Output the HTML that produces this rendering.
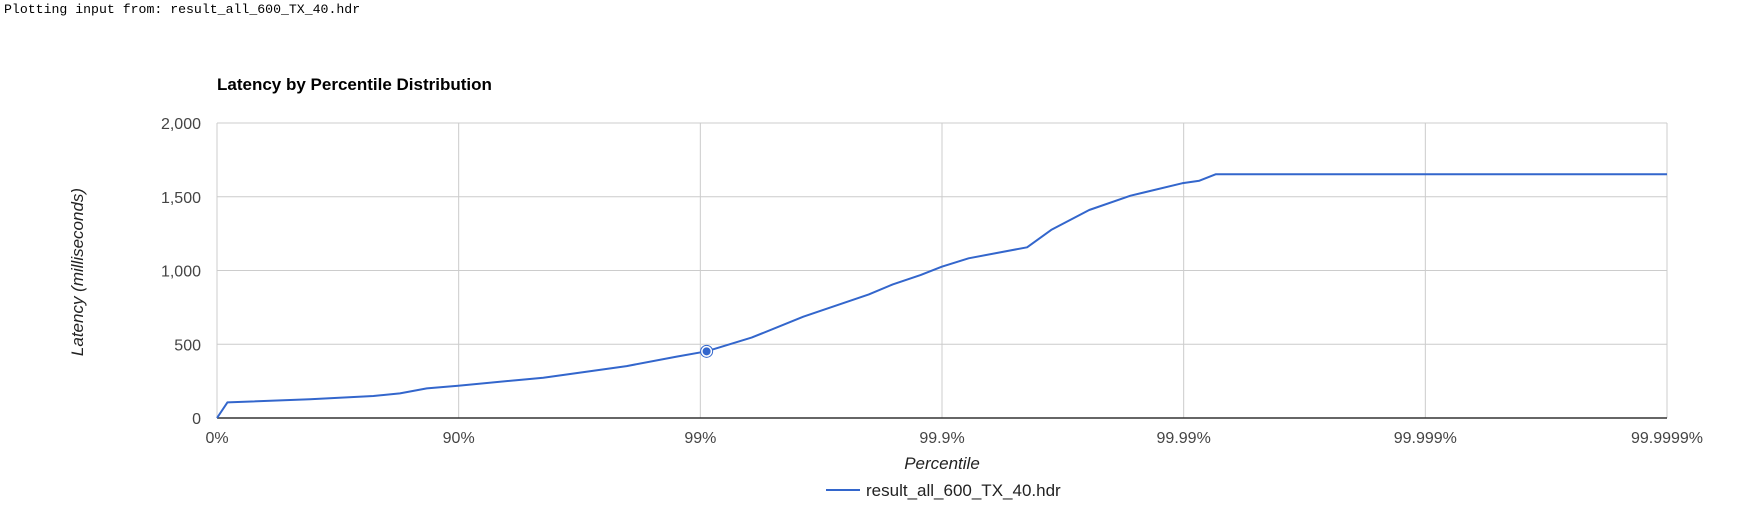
<!DOCTYPE html>
<html><head><meta charset="utf-8"><style>
body{margin:0;background:#fff;width:1738px;height:506px;overflow:hidden;position:relative}
pre{margin:0;position:absolute;left:4px;top:2px;font:13.2px "Liberation Mono",monospace;color:#000}
svg{position:absolute;left:0;top:0}
text{font-family:"Liberation Sans",Arial,sans-serif}
</style></head><body>
<pre>Plotting input from: result_all_600_TX_40.hdr</pre>
<svg id="chart" width="1738" height="506"></svg>
<script>
// x in "nines" units: log10(1/(1-p)); 0 = 0%, 1 = 90%, 2 = 99% ...
const nines = [0,0.043,0.385,0.647,0.757,0.868,0.998,1.35,1.695,1.902,2.026,2.212,2.426,2.697,2.796,2.911,2.999,3.11,3.352,3.452,3.609,3.78,3.993,4.065,4.132,6];
const latency = [0,106,127,149,167,201,219,273,352,416,452,545,687,838,906,969,1026,1083,1157,1275,1410,1507,1591,1609,1652,1652];
const xTickLabels = ["0%","90%","99%","99.9%","99.99%","99.999%","99.9999%"];
const yTicks = [0,500,1000,1500,2000];
const yTickLabels = ["0","500","1,000","1,500","2,000"];
const highlightIndex = 10;

const L=217,R=1667,T=123,B=418,XMAX=6,YMAX=2000;
const sx=u=>L+u*(R-L)/XMAX, sy=v=>B-v*(B-T)/YMAX;
const svg=document.getElementById('chart'), NS='http://www.w3.org/2000/svg';
function mk(tag,attrs,parent){const e=document.createElementNS(NS,tag);for(const k in attrs)e.setAttribute(k,attrs[k]);(parent||svg).appendChild(e);return e;}

let t=mk('text',{x:L,y:90,'font-size':17,'font-weight':'bold',fill:'#000'});t.textContent='Latency by Percentile Distribution';



yTicks.forEach((v,i)=>{
  const g=mk('line',{x1:L,x2:R,y1:sy(v),y2:sy(v),stroke:'#ccc','stroke-width':1});
  
  
  const lb=mk('text',{x:L-16,y:sy(v)+6,'font-size':16,fill:'#444','text-anchor':'end'});lb.textContent=yTickLabels[i];
  
  
});
xTickLabels.forEach((s,i)=>{
  const g=mk('line',{x1:sx(i),x2:sx(i),y1:T,y2:B,stroke:'#ccc','stroke-width':1});
  
  
  const lb=mk('text',{x:sx(i),y:443,'font-size':16,fill:'#444','text-anchor':'middle'});lb.textContent=s;
  
  
});
const base=mk('line',{x1:L,x2:R,y1:B,y2:B,stroke:'#333','stroke-width':1.5});



const pts=nines.map((u,i)=>sx(u).toFixed(1)+','+sy(latency[i]).toFixed(1)).join(' ');
const line=mk('polyline',{points:pts,fill:'none',stroke:'#3366cc','stroke-width':2,'stroke-linejoin':'round'});


const ring=mk('circle',{cx:sx(nines[highlightIndex]),cy:sy(latency[highlightIndex]),r:6,fill:'#fff',stroke:'#3366cc','stroke-width':1});


const dot=mk('circle',{cx:sx(nines[highlightIndex]),cy:sy(latency[highlightIndex]),r:4,fill:'#3366cc'});



const yt=mk('text',{x:0,y:0,'font-size':17,'font-style':'italic',fill:'#222','text-anchor':'middle',transform:'translate(83,272) rotate(-90)'});yt.textContent='Latency (milliseconds)';


const xt=mk('text',{x:942,y:469,'font-size':17,'font-style':'italic',fill:'#222','text-anchor':'middle'});xt.textContent='Percentile';



const ll=mk('line',{x1:826,x2:860,y1:490,y2:490,stroke:'#3366cc','stroke-width':2});


const lt=mk('text',{x:866,y:496,'font-size':17,fill:'#222'});lt.textContent='result_all_600_TX_40.hdr';


</script>
</body></html>
